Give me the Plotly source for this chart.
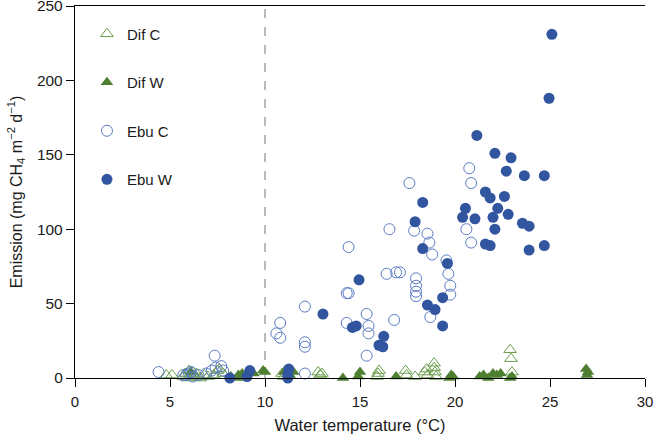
import plotly.graph_objects as go

# ---- data ----
dif_c_x = [4.8, 5.1, 5.7, 5.8, 5.9, 6.0, 6.1, 6.2, 6.3, 6.4, 6.6, 6.8, 7.0, 7.3, 7.5, 7.6, 7.8,
           10.9, 11.0, 12.8, 12.9, 13.0, 15.9, 15.95, 16.0, 17.4, 17.45, 17.9, 18.4, 18.5, 18.55,
           18.9, 18.9, 18.95, 19.0, 22.9, 22.95, 23.0]
dif_c_y = [2, 2, 1, 3, 0, 5, 2, 4, 1, 3, 0, 2, 1, 2, 5, 6, 3,
           3, 1, 4, 2, 3, 1, 3, 5, 5, 2, 1, 4, 6, 2,
           10, 7, 4, 1, 19, 13, 4]

dif_w_x = [6.1, 8.2, 8.6, 8.7, 8.8, 9.4, 9.9, 10.0, 11.0, 11.3, 11.5, 14.1, 14.9, 15.0, 16.9,
           19.7, 19.8, 19.9, 21.3, 21.5, 21.75, 22.0, 22.2, 22.4, 22.9, 23.0, 26.9, 27.0, 26.95]
dif_w_y = [4, 1, 2, 0, 3, 3, 5, 4, 4, 2, 4, 0, 1, 4, 1,
           0, 2, 1, 1, 2, 0, 3, 2, 3, 0, 1, 6, 4, 2]

ebu_c_x = [4.4, 5.7, 5.85, 6.0, 6.1, 6.2, 6.5, 6.9, 7.2, 7.35, 7.4, 7.7, 7.8, 10.6, 10.8, 10.8,
           12.1, 12.1, 12.1, 12.1, 14.3, 14.3, 14.4, 14.4, 15.35, 15.35, 15.45, 15.45, 16.4, 16.55,
           16.8, 16.9, 17.1, 17.6, 17.85, 17.95, 17.95, 17.95, 17.95, 18.55, 18.65, 18.7, 18.8,
           19.55, 19.65, 19.75, 19.75, 20.6, 20.75, 20.85, 20.85]
ebu_c_y = [4, 2, 2, 3, 4, 1, 2, 3, 5, 15, 7, 8, 5, 30, 27, 37,
           3, 21, 24, 48, 37, 57, 57, 88, 15, 43, 30, 35, 70, 100,
           39, 71, 71, 131, 99, 67, 62, 58, 55, 97, 91, 41, 83,
           79, 70, 62, 56, 100, 141, 131, 91]

ebu_w_x = [8.15, 9.05, 9.2, 11.2, 11.2, 11.25, 13.05, 14.6, 14.8, 14.95, 16.0, 16.2, 16.25, 17.9,
           18.3, 18.3, 18.55, 18.95, 19.35, 19.35, 19.6, 20.4, 20.55, 21.05, 21.15, 21.6, 21.6,
           21.85, 21.85, 22.0, 22.1, 22.1, 22.25, 22.6, 22.7, 22.8, 22.95, 23.55, 23.65, 23.9,
           23.9, 24.7, 24.7, 24.95, 25.1]
ebu_w_y = [0, 1, 5, 0, 2, 6, 43, 34, 35, 66, 22, 21, 28, 105,
           118, 87, 49, 46, 54, 35, 77, 108, 114, 107, 163, 125, 90,
           121, 89, 108, 151, 100, 114, 122, 139, 110, 148, 104, 136, 102,
           86, 136, 89, 188, 231]

x_ticks = [0, 5, 10, 15, 20, 25, 30]
y_ticks = [0, 50, 100, 150, 200, 250]

GREEN_OPEN = "#6a9e4c"
GREEN_FILL = "#4e7f31"
BLUE_OPEN = "#5b7cc4"
BLUE_FILL = "#32559f"

fig = go.Figure()

fig.add_trace(go.Scatter(x=dif_c_x, y=dif_c_y, mode="markers", name="Dif C",
                         legendgroup="a",
                         marker=dict(symbol="triangle-up-open", size=11, color=GREEN_OPEN,
                                     line=dict(width=1, color=GREEN_OPEN)),
                         cliponaxis=False))
fig.add_trace(go.Scatter(x=dif_w_x, y=dif_w_y, mode="markers", name="Dif W",
                         legendgroup="b",
                         marker=dict(symbol="triangle-up", size=11, color=GREEN_FILL,
                                     line=dict(width=0)),
                         cliponaxis=False))
fig.add_trace(go.Scatter(x=ebu_c_x, y=ebu_c_y, mode="markers", name="Ebu C",
                         legendgroup="c",
                         marker=dict(symbol="circle-open", size=11, color=BLUE_OPEN,
                                     line=dict(width=1, color=BLUE_OPEN)),
                         cliponaxis=False))
fig.add_trace(go.Scatter(x=ebu_w_x, y=ebu_w_y, mode="markers", name="Ebu W",
                         legendgroup="d",
                         marker=dict(symbol="circle", size=11, color=BLUE_FILL,
                                     line=dict(width=0)),
                         cliponaxis=False))

fig.add_shape(type="line", x0=10, x1=10, y0=0, y1=250, xref="x", yref="y",
              line=dict(color="#8c8c8c", width=1.2, dash="dash"), layer="below")

fig.update_layout(
    width=655, height=434,
    margin=dict(l=75, r=10, t=6, b=56),
    paper_bgcolor="white", plot_bgcolor="white",
    font=dict(family="Liberation Sans, Arial, sans-serif", size=15, color="#1a1a1a"),
    showlegend=True,
    legend=dict(x=0.021, y=0.969, xanchor="left", yanchor="top",
                traceorder="grouped", tracegroupgap=26,
                bgcolor="rgba(0,0,0,0)", itemwidth=30,
                font=dict(size=15)),
    xaxis=dict(range=[0, 30], tickvals=x_ticks, ticktext=[str(v) for v in x_ticks],
               showline=True, linecolor="black", linewidth=1.3, mirror=True,
               ticks="outside", ticklen=8, tickcolor="black", showgrid=False, zeroline=False,
               automargin=False, tickfont=dict(size=15), ticklabeloverflow="allow",
               ticklabelstandoff=2,
               title=dict(text="Water temperature (°C)", standoff=10, font=dict(size=16.5))),
    yaxis=dict(range=[0, 250], tickvals=y_ticks, ticktext=[str(v) for v in y_ticks],
               showline=True, linecolor="black", linewidth=1.3,
               ticks="outside", ticklen=8, tickcolor="black", showgrid=False, zeroline=False,
               automargin=False, tickfont=dict(size=15.5), ticklabeloverflow="allow",
               title=dict(text="Emission (mg CH<sub>4</sub> m<sup>−2</sup> d<sup>−1</sup>)",
                          standoff=10, font=dict(size=16))),
)

fig.write_html("out.html", config={"displayModeBar": False},
               post_script="document.body.style.margin='0';document.body.style.padding='0';")
